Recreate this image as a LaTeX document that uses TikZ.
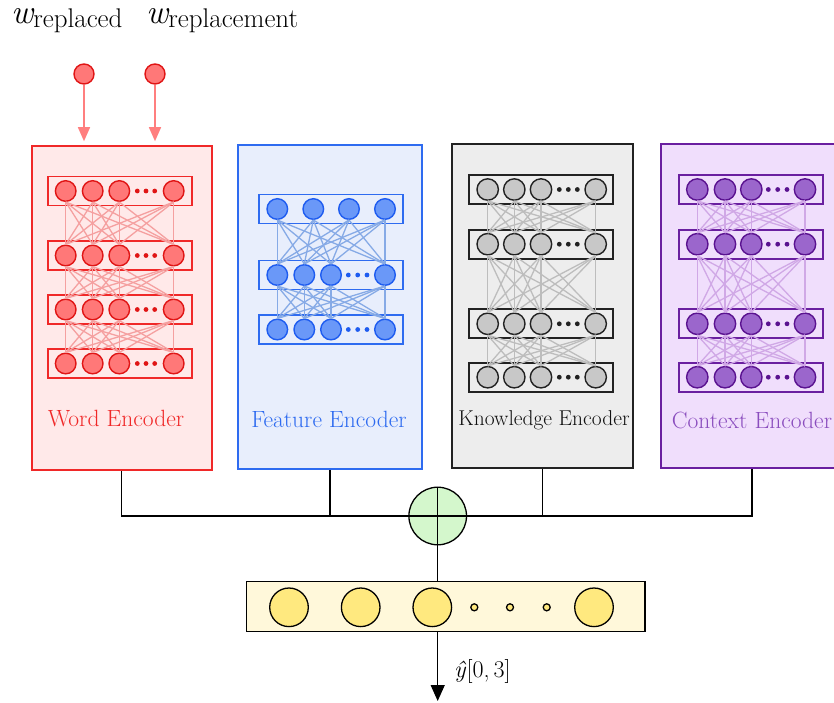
\documentclass[tikz,border=0pt]{standalone}
\usepackage{fontspec}
\usetikzlibrary{arrows.meta}
\definecolor{wdraw}{HTML}{F02828}
\definecolor{wfill}{HTML}{FFE9E9}
\definecolor{wcirc}{HTML}{FF7878}
\definecolor{wcdraw}{HTML}{E01515}
\definecolor{wline}{HTML}{F5A0A0}
\definecolor{wtext}{HTML}{F02828}
\definecolor{fdraw}{HTML}{2E6BF0}
\definecolor{ffill}{HTML}{E8EEFC}
\definecolor{fcirc}{HTML}{6A98F8}
\definecolor{fcdraw}{HTML}{1E5CF0}
\definecolor{fline}{HTML}{86AAE6}
\definecolor{ftext}{HTML}{2E6BF0}
\definecolor{kdraw}{HTML}{222222}
\definecolor{kfill}{HTML}{EDEDED}
\definecolor{kcirc}{HTML}{C8C8C8}
\definecolor{kcdraw}{HTML}{222222}
\definecolor{kline}{HTML}{BDBDBD}
\definecolor{ktext}{HTML}{111111}
\definecolor{cdraw}{HTML}{6A1FA0}
\definecolor{cfill}{HTML}{F0DEFC}
\definecolor{ccirc}{HTML}{9B66CC}
\definecolor{ccdraw}{HTML}{5A1290}
\definecolor{cline}{HTML}{D0A8E6}
\definecolor{ctext}{HTML}{8A4DBE}
\definecolor{sumfill}{HTML}{D4F7CC}
\definecolor{yfill}{HTML}{FFF8DA}
\definecolor{ycirc}{HTML}{FFE97F}
\definecolor{inarrow}{HTML}{FF7F7F}

\newcommand{\netlayer}[6]{%
  \node[layerbox, draw=#6draw] (#1) at (#3,#2) {};
  \foreach \xx [count=\i] in {#4} \node[neuron, fill=#6circ, draw=#6cdraw] (#1-\i) at (\xx,#2) {};
  \foreach \xx in {#5} \fill[#6cdraw] (\xx,#2) circle (2.4);
}
\newcommand{\netlink}[3]{%
  \foreach \i in {1,...,4}{\foreach \j in {1,...,4}{\draw[linkline, draw=#3line] (#1-\i.south) -- (#2-\j.north);}}
}
\newcommand{\wsub}[1]{{\fontsize{34}{36}\selectfont\itshape w}\raisebox{-4pt}{\fontsize{27}{29}\selectfont #1}}

\begin{document}
\begin{tikzpicture}[x=1pt,y=-1pt,
  encbox/.style={rectangle, line width=1.6pt, inner sep=0pt},
  layerbox/.style={rectangle, line width=1.8pt, inner sep=0pt, minimum width=144pt, minimum height=29pt},
  neuron/.style={circle, line width=1.4pt, inner sep=0pt, minimum size=20.6pt},
  linkline/.style={line width=1.3pt},
  enclabel/.style={font=\fontsize{23.5}{26}\selectfont, inner sep=0pt},
  inneuron/.style={circle, line width=1.4pt, inner sep=0pt, minimum size=20pt, fill=wcirc, draw=wcdraw},
  conn/.style={line width=1.3pt, draw=black},
  ycircle/.style={circle, line width=1.3pt, draw=black, fill=ycirc, inner sep=0pt}
]
\useasboundingbox (0,0) rectangle (834,702);

% top labels
\node[anchor=base west, inner sep=0pt] (lab1) at (11,23.5) {\wsub{replaced}};
\node[anchor=base west, inner sep=0pt] (lab2) at (146,23.5) {\wsub{replacement}};

% encoder boxes
\node[encbox, draw=wdraw, fill=wfill, minimum width=180pt, minimum height=324pt] (wbox) at (121.7,308) {};
\node[encbox, draw=fdraw, fill=ffill, minimum width=184pt, minimum height=324pt] (fbox) at (330,307) {};
\node[encbox, draw=kdraw, fill=kfill, minimum width=181pt, minimum height=324pt] (kbox) at (542.5,306) {};
\node[encbox, draw=cdraw, fill=cfill, minimum width=182pt, minimum height=324pt] (cbox) at (752,306) {};

% input neurons
\node[inneuron] (in1) at (84,74) {};
\node[inneuron] (in2) at (155,74) {};
\draw[line width=1.4pt, draw=inarrow, -{Triangle[width=12pt,length=14pt]}, shorten >=4pt] (in1) -- (in1 |- wbox.north);
\draw[line width=1.4pt, draw=inarrow, -{Triangle[width=12pt,length=14pt]}, shorten >=4pt] (in2) -- (in2 |- wbox.north);

% Word encoder
\netlayer{wl1}{191}{119.7}{65.7,92.7,119.3,173.7}{137.3,146,154.7}{w}
\netlayer{wl2}{255.5}{119.7}{65.7,92.7,119.3,173.7}{137.3,146,154.7}{w}
\netlayer{wl3}{309.5}{119.7}{65.7,92.7,119.3,173.7}{137.3,146,154.7}{w}
\netlayer{wl4}{363.5}{119.7}{65.7,92.7,119.3,173.7}{137.3,146,154.7}{w}
\netlink{wl1}{wl2}{w}
\netlink{wl2}{wl3}{w}
\netlink{wl3}{wl4}{w}
\node[enclabel, text=wtext] (wlab) at (116,419) {Word Encoder};

% Feature encoder
\node[layerbox, draw=fdraw] (fl1) at (331.2,209) {};
\foreach \xx [count=\i] in {277.3,313.3,349,385} \node[neuron, fill=fcirc, draw=fcdraw] (fl1-\i) at (\xx,209) {};
\netlayer{fl2}{275}{331.2}{277.3,304.3,331,385}{348.3,357.7,367}{f}
\netlayer{fl3}{329.5}{331.2}{277.3,304.3,331,385}{348.3,357.7,367}{f}
\netlink{fl1}{fl2}{f}
\netlink{fl2}{fl3}{f}
\node[enclabel, text=ftext] (flab) at (329,419) {Feature Encoder};

% Knowledge encoder
\tikzset{neuron/.append style={minimum size=21.4pt}}
\netlayer{kl1}{189.5}{541.3}{487.7,514.3,541,595.7}{559.3,568.3,577.3}{k}
\netlayer{kl2}{244.2}{541.3}{487.7,514.3,541,595.7}{559.3,568.3,577.3}{k}
\netlayer{kl3}{323.8}{541.3}{487.7,514.3,541,595.7}{559.3,568.3,577.3}{k}
\netlayer{kl4}{377.2}{541.3}{487.7,514.3,541,595.7}{559.3,568.3,577.3}{k}
\netlink{kl1}{kl2}{k}
\netlink{kl2}{kl3}{k}
\netlink{kl3}{kl4}{k}
\node[enclabel, text=ktext, font=\fontsize{21.5}{24}\selectfont] (klab) at (544,420) {Knowledge Encoder};

% Context encoder
\netlayer{cl1}{189.5}{750.8}{697.3,725,751.3,805}{768.3,777.7,787}{c}
\netlayer{cl2}{244.2}{750.8}{697.3,725,751.3,805}{768.3,777.7,787}{c}
\netlayer{cl3}{323.8}{750.8}{697.3,725,751.3,805}{768.3,777.7,787}{c}
\netlayer{cl4}{377.2}{750.8}{697.3,725,751.3,805}{768.3,777.7,787}{c}
\netlink{cl1}{cl2}{c}
\netlink{cl2}{cl3}{c}
\netlink{cl3}{cl4}{c}
\node[enclabel, text=ctext] (clab) at (752,420) {Context Encoder};

% sum node
\node[circle, line width=1.3pt, draw=black, fill=sumfill, minimum size=57.6pt, inner sep=0pt] (sum) at (437.7,516) {};
\draw[conn] (wbox.south) -- (wbox.south |- sum.center) -- (cbox.south |- sum.center) -- (cbox.south);
\draw[conn] (fbox.south) -- (fbox.south |- sum.center);
\draw[conn] (kbox.south) -- (kbox.south |- sum.center);
\draw[conn] (sum.north) -- (sum.south);

% output layer
\node[rectangle, line width=1.3pt, draw=black, fill=yfill, minimum width=398.3pt, minimum height=50pt, inner sep=0pt] (ybox) at (445.8,606.7) {};
\node[ycircle, minimum size=38.6pt] (y1) at (289,607.3) {};
\node[ycircle, minimum size=38.6pt] (y2) at (360.7,607.3) {};
\node[ycircle, minimum size=38.6pt] (y3) at (432.3,607.3) {};
\node[ycircle, minimum size=7pt] (d1) at (474.3,607.3) {};
\node[ycircle, minimum size=7pt] (d2) at (510,607.3) {};
\node[ycircle, minimum size=7pt] (d3) at (546.7,607.3) {};
\node[ycircle, minimum size=38.6pt] (y4) at (594,607.3) {};
\draw[conn] (sum.south) -- (sum.south |- ybox.north);
\coordinate (out) at (437.7,701);
\draw[conn, -{Triangle[width=14pt,length=16pt]}] (sum.south |- ybox.south) -- (out);
\node[anchor=west, inner sep=0pt, font=\fontsize{24}{26}\selectfont] (ylab) at (454,671) {\textit{ŷ}[0,\,3]};
\end{tikzpicture}
\end{document}
